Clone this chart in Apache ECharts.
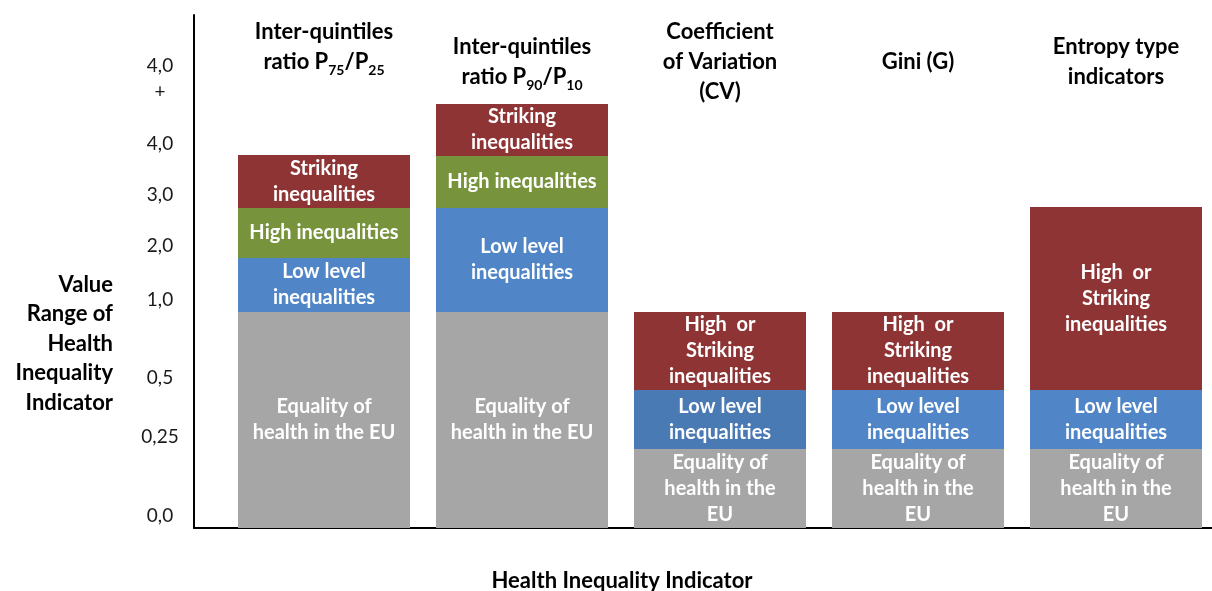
<!DOCTYPE html>
<html lang="en">
<head>
    <meta charset="UTF-8">
    <title>health inequality indicators</title>
    <script src="https://cdn.jsdelivr.net/npm/echarts@6/dist/echarts.min.js"></script>
    <style>
        html, body { margin: 0; padding: 0; background: #fff; }
        #main { width: 1212px; height: 591px; }
    </style>
</head>
<body>
<div id="main"></div>
<script>
    // categories (top labels), {s|..} = subscript
    const categories = [
        'Inter-quintiles\nratio P{s|75}/P{s|25}\n ',
        'Inter-quintiles\nratio P{s|90}/P{s|10}',
        'Coefficient\nof Variation\n(CV)',
        'Gini (G)',
        'Entropy type\nindicators'
    ];

    // y axis is not linear: labels sit at these heights of the drawing scale
    const yTickValues = [12, 91, 150, 228, 282, 333, 384, 449];
    const yTickLabels = ['0,0', '0,25', '0,5', '1,0', '2,0', '3,0', '4,0', '4,0\n+'];

    // segment heights, bottom to top
    const equality = [216, 216, 79, 79, 79];
    const lowLevel = [54, 104, 59, 59, 59];
    const high = [50, 52, '-', '-', '-'];
    const striking = [53, 52, 78, 78, 183];

    const equalityText = ['Equality of\nhealth in the EU', 'Equality of\nhealth in the EU',
        'Equality of\nhealth in the\nEU', 'Equality of\nhealth in the\nEU', 'Equality of\nhealth in the\nEU'];
    const lowText = ['Low level\ninequalities', 'Low level\ninequalities', 'Low level\ninequalities',
        'Low level\ninequalities', 'Low level\ninequalities'];
    const highText = ['High inequalities', 'High inequalities', '', '', ''];
    const strikingText = ['Striking\ninequalities', 'Striking\ninequalities', 'High  or\nStriking\ninequalities',
        'High  or\nStriking\ninequalities', 'High  or\nStriking\ninequalities'];

    const FONT = 'Lato';

    function makeSeries(name, values, texts, color) {
        return {
            name: name,
            type: 'bar',
            stack: 'all',
            xAxisIndex: 1,
            yAxisIndex: 1,
            barWidth: 172,
            data: values.slice(),
            itemStyle: {color: color},
            label: {
                show: true,
                position: 'inside',
                color: '#ffffff',
                fontFamily: FONT,
                fontWeight: 'bold',
                fontSize: 20,
                lineHeight: 26,
                formatter: function (p) {
                    return texts[p.dataIndex];
                }
            }
        };
    }

    var myChart = echarts.init(document.getElementById('main'));

    const lowSeries = makeSeries('low', lowLevel, lowText, '#5085c7');
    // the CV bar has a slightly darker blue
    lowSeries.data[2] = {value: lowLevel[2], itemStyle: {color: '#4a7ab4'}};

    var option = {
        backgroundColor: '#ffffff',
        animation: false,
        textStyle: {fontFamily: FONT},
        title: [{
            text: 'Value\nRange of\nHealth\nInequality\nIndicator',
            left: 113,
            top: 270,
            padding: 0,
            textAlign: 'right',
            textStyle: {fontFamily: FONT, fontWeight: 'bold', fontSize: 22, lineHeight: 29.5, color: '#000'}
        }, {
            text: 'Health Inequality Indicator',
            left: 622,
            top: 570,
            padding: 0,
            textAlign: 'center',
            textStyle: {fontFamily: FONT, fontWeight: 'bold', fontSize: 22, color: '#000'}
        }],
        grid: [
            // frame: axis lines and y labels
            {left: 194, right: 0, top: 15, bottom: 63, outerBoundsMode: 'none'},
            // bars
            {left: 225, right: -3, top: 15, bottom: 63, outerBoundsMode: 'none'}
        ],
        xAxis: [{
            gridIndex: 0,
            type: 'value',
            min: 0,
            max: 1,
            axisLine: {show: true, onZero: false, lineStyle: {color: '#000', width: 2}},
            axisTick: {show: false},
            axisLabel: {show: false},
            splitLine: {show: false}
        }, {
            gridIndex: 1,
            type: 'category',
            data: categories,
            position: 'bottom',
            axisLine: {show: false},
            axisTick: {show: false},
            axisLabel: {show: false}
        }, {
            gridIndex: 1,
            type: 'category',
            data: categories,
            position: 'top',
            axisLine: {show: false},
            axisTick: {show: false},
            axisLabel: {
                show: true,
                interval: 0,
                inside: true,
                margin: 47,
                verticalAlign: 'middle',
                fontFamily: FONT,
                fontWeight: 'bold',
                fontSize: 22,
                lineHeight: 30,
                color: '#000',
                rich: {
                    s: {fontFamily: FONT, fontWeight: 'bold', fontSize: 14, lineHeight: 20, verticalAlign: 'bottom', color: '#000'}
                }
            }
        }],
        yAxis: [{
            gridIndex: 0,
            type: 'value',
            min: 0,
            max: 513,
            axisLine: {show: true, onZero: false, lineStyle: {color: '#000', width: 2}},
            axisTick: {show: false},
            splitLine: {show: false},
            axisLabel: {
                customValues: yTickValues,
                margin: 34,
                align: 'center',
                fontFamily: FONT,
                fontSize: 19,
                lineHeight: 26,
                color: '#1a1a1a',
                formatter: function (v) {
                    return yTickLabels[yTickValues.indexOf(v)];
                }
            }
        }, {
            gridIndex: 1,
            type: 'value',
            min: 0,
            max: 513,
            show: false,
            splitLine: {show: false}
        }],
        series: [
            makeSeries('equality', equality, equalityText, '#a6a6a6'),
            lowSeries,
            makeSeries('high', high, highText, '#77933c'),
            makeSeries('striking', striking, strikingText, '#8e3435')
        ]
    };

    myChart.setOption(option);
</script>
</body>
</html>
